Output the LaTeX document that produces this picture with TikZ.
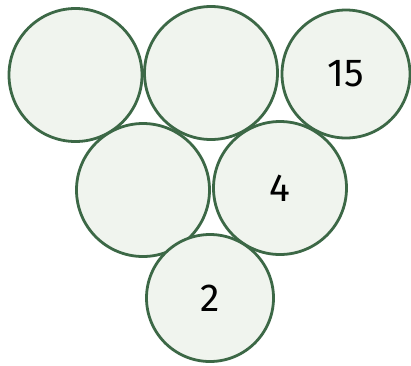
\documentclass[tikz,border=0pt]{standalone}
\usepackage{fontspec}
\setmainfont{Fira Sans}
\definecolor{ringc}{HTML}{3C6846}
\definecolor{fillc}{HTML}{F0F4EE}
\begin{document}
\begin{tikzpicture}[x=1pt,y=-1pt,
  ball/.style={circle,draw=ringc,fill=fillc,line width=2.8pt,minimum size=133pt,inner sep=0pt,font=\fontsize{39}{41}\selectfont}]
\useasboundingbox[fill=white] (0,0) rectangle (411,365);
\node[ball] (a) at (75.5,75) {};
\node[ball] (b) at (211,73) {};
\node[ball,minimum size=128pt] (c) at (346,74) {15};
\node[ball] (d) at (143,190) {};
\node[ball] (e) at (280,188) {4};
\node[ball,minimum size=127pt] (f) at (210,298) {2};
\end{tikzpicture}
\end{document}
